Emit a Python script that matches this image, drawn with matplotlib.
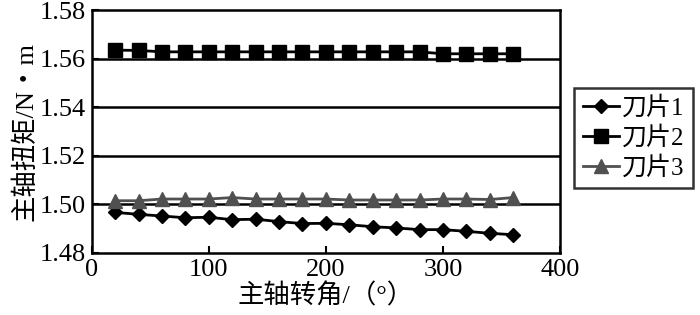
import matplotlib.pyplot as plt
import numpy as np

plt.rcParams['font.family'] = ['Liberation Serif', 'Noto Sans CJK SC']
plt.rcParams['axes.unicode_minus'] = False

angle = [20, 40, 60, 80, 100, 120, 140, 160, 180, 200, 220, 240, 260, 280, 300, 320, 340, 360]
blade1 = [1.4967, 1.4959, 1.4952, 1.4945, 1.4947, 1.4937, 1.4939, 1.4929, 1.4921,
          1.4922, 1.4916, 1.4908, 1.4903, 1.4896, 1.4896, 1.4889, 1.4881, 1.4875]
blade2 = [1.5635, 1.5634, 1.5628, 1.5628, 1.5628, 1.5628, 1.5628, 1.5628, 1.5628,
          1.5628, 1.5628, 1.5628, 1.5628, 1.5628, 1.5620, 1.5620, 1.5620, 1.5620]
blade3 = [1.5015, 1.5015, 1.5022, 1.5022, 1.5022, 1.5028, 1.5022, 1.5022, 1.5022,
          1.5022, 1.5018, 1.5018, 1.5018, 1.5018, 1.5022, 1.5022, 1.5020, 1.5028]
labels = ['刀片1', '刀片2', '刀片3']
yticks = [1.48, 1.50, 1.52, 1.54, 1.56, 1.58]

fig = plt.figure(figsize=(7, 3.15), dpi=100)
ax = fig.add_axes([0.131, 0.197, 0.669, 0.771])

for y in yticks[1:-1]:
    ax.axhline(y, color='black', lw=1.8, zorder=1)

ax.plot(angle, blade1, color='black', lw=2, marker='D', ms=7, label=labels[0], zorder=3)
ax.plot(angle, blade2, color='black', lw=2, marker='s', ms=9.5, label=labels[1], zorder=3)
ax.plot(angle, blade3, color='#505050', lw=2, marker='^', ms=10, label=labels[2], zorder=3)

ax.set_xlim(0, 400)
ax.set_ylim(1.48, 1.58)
ax.set_xticks([0, 100, 200, 300, 400])
ax.set_yticks(yticks)
ax.set_yticklabels(['%.2f' % v for v in yticks])
ax.tick_params(direction='in', length=5, width=1.5, labelsize=19, pad=4)
for s in ax.spines.values():
    s.set_linewidth(1.8)

ax.set_xlabel('主轴转角/（°）', fontsize=19, labelpad=2)
ax.set_ylabel('主轴扭矩/N・m', fontsize=19, labelpad=2)

leg = fig.legend(loc='center left', bbox_to_anchor=(0.82, 0.562), fontsize=18,
                 frameon=True, fancybox=False, edgecolor='black',
                 handlelength=1.45, handletextpad=0.1, borderpad=0.35,
                 labelspacing=0.25, borderaxespad=0)
leg.get_frame().set_linewidth(1.8)

fig.savefig('out.png', dpi=100)
